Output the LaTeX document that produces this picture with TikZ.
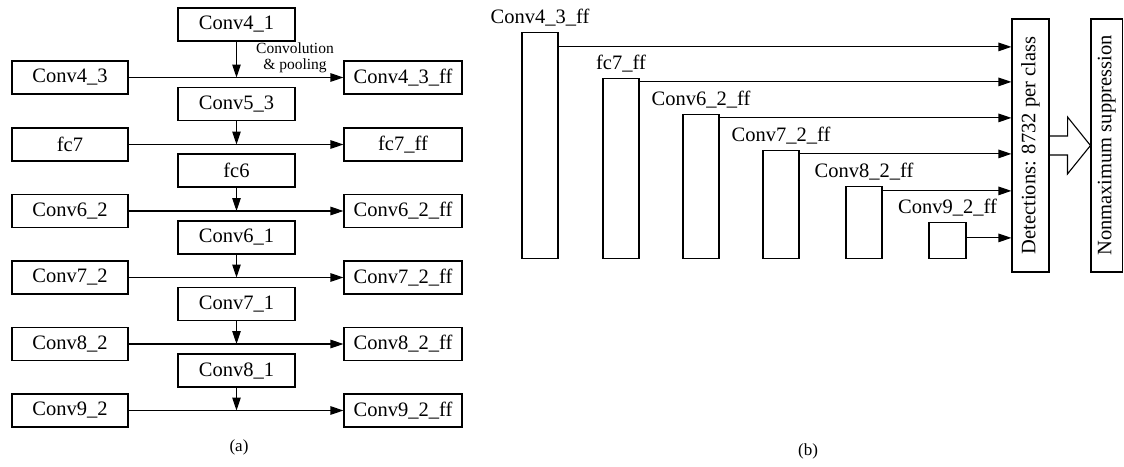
\documentclass[tikz,border=0pt]{standalone}
\usepackage{fontspec}
\setmainfont{Liberation Serif}
\usetikzlibrary{arrows.meta,calc}

\begin{document}
\begin{tikzpicture}[x=1pt,y=-1pt,
  txt/.style={font=\fontsize{20.5}{24}\selectfont},
  box/.style={txt, draw, line width=1.1pt, minimum height=33pt, inner sep=0pt},
  lbox/.style={box, minimum width=116pt},
  cbox/.style={box, minimum width=117pt},
  rbox/.style={box, minimum width=118pt},
  arr/.style={line width=1.1pt, -{Triangle[length=13pt,width=8.5pt]}},
  bar/.style={draw, line width=1.1pt, minimum width=36pt, inner sep=0pt, anchor=south},
  barlabel/.style={txt, anchor=base, inner sep=0pt},
  vbox/.style={txt, draw, line width=1.1pt, rotate=90, minimum width=253pt, inner sep=0pt},
  caption/.style={font=\fontsize{17}{20}\selectfont}
]
\useasboundingbox (0,0) rectangle (1124,466);

% ---------- (a): feature fusion ----------
\node[cbox] (c41) at (236.5,24.5) {Conv4\_1};
\node[cbox] (c53) at (236.5,104) {Conv5\_3};
\node[cbox] (fc6) at (236.5,170.5) {fc6};
\node[cbox] (c61) at (236.5,237.5) {Conv6\_1};
\node[cbox] (c71) at (236.5,304) {Conv7\_1};
\node[cbox] (c81) at (236.5,370.5) {Conv8\_1};

\node[lbox] (c43) at (70,77.5) {Conv4\_3};
\node[lbox] (fc7) at (70,144.5) {fc7};
\node[lbox] (c62) at (70,211) {Conv6\_2};
\node[lbox] (c72) at (70,277.5) {Conv7\_2};
\node[lbox] (c82) at (70,344) {Conv8\_2};
\node[lbox] (c92) at (70,410.5) {Conv9\_2};

\node[rbox] (c43f) at (403,77.5) {Conv4\_3\_ff};
\node[rbox] (fc7f) at (403,144.5) {fc7\_ff};
\node[rbox] (c62f) at (403,211) {Conv6\_2\_ff};
\node[rbox] (c72f) at (403,277.5) {Conv7\_2\_ff};
\node[rbox] (c82f) at (403,344) {Conv8\_2\_ff};
\node[rbox] (c92f) at (403,410.5) {Conv9\_2\_ff};

\node[align=center, font=\fontsize{15.5}{16.5}\selectfont, inner sep=0pt] (cp) at (295,58) {Convolution\\\& pooling};

\foreach \l/\c/\r in {c43/c41/c43f, fc7/c53/fc7f, c62/fc6/c62f, c72/c61/c72f, c82/c71/c82f, c92/c81/c92f}{
  \coordinate (m-\l) at (\c.south |- \l.east);
  \draw[arr] (\l.east) -- (\r.west);
  \draw[arr] (\c.south) -- (m-\l);
}

\node[caption] (capa) at (239,447) {(a)};

% ---------- (b): multi-scale detection ----------
\node[bar, minimum height=226pt] (b1) at (540,259) {};
\node[bar, minimum height=180pt] (b2) at (621,259) {};
\node[bar, minimum height=144pt] (b3) at (701,259) {};
\node[bar, minimum height=108pt] (b4) at (781,259) {};
\node[bar, minimum height=72pt]  (b5) at (864,259) {};
\node[bar, minimum height=36pt, minimum width=37pt] (b6) at (947.5,259) {};

\node[barlabel] (l1) at ($(b1.north)+(0,-8)$) {Conv4\_3\_ff};
\node[barlabel] (l2) at ($(b2.north)+(0,-8)$) {fc7\_ff};
\node[barlabel] (l3) at ($(b3.north)+(0,-8)$) {Conv6\_2\_ff};
\node[barlabel] (l4) at ($(b4.north)+(0,-8)$) {Conv7\_2\_ff};
\node[barlabel] (l5) at ($(b5.north)+(0,-8)$) {Conv8\_2\_ff};
\node[barlabel] (l6) at ($(b6.north)+(0,-8)$) {Conv9\_2\_ff};

% rotated boxes: their north anchor lies on the left side, south on the right
\node[vbox, minimum height=37pt] (det) at (1030.5,145.5) {Detections: 8732 per class};
\node[vbox, minimum height=31.5pt] (nms) at (1106.75,145.5) {Nonmaximum suppression};

\coordinate (s1) at ($(b1.north east)+(0,15)$);
\coordinate (s2) at ($(b2.north east)+(0,4)$);
\coordinate (s3) at ($(b3.north east)+(0,4)$);
\coordinate (s4) at ($(b4.north east)+(0,4)$);
\coordinate (s5) at ($(b5.north east)+(0,5)$);
\coordinate (s6) at ($(b6.north east)+(0,16)$);
\foreach \s in {s1,s2,s3,s4,s5,s6}
  \draw[arr] (\s) -- (\s -| det.north);

% hollow block arrow between the two stages
\draw[line width=1.1pt, line join=miter]
  ($(det.south)+(0,-9.5)$) -- ++(18,0) -- ++(0,-19) -- (nms.north) -- ++(-23,28.5) -- ++(0,-19) -- ($(det.south)+(0,9.5)$);

\node[caption] (capb) at (808,451) {(b)};
\end{tikzpicture}
\end{document}
